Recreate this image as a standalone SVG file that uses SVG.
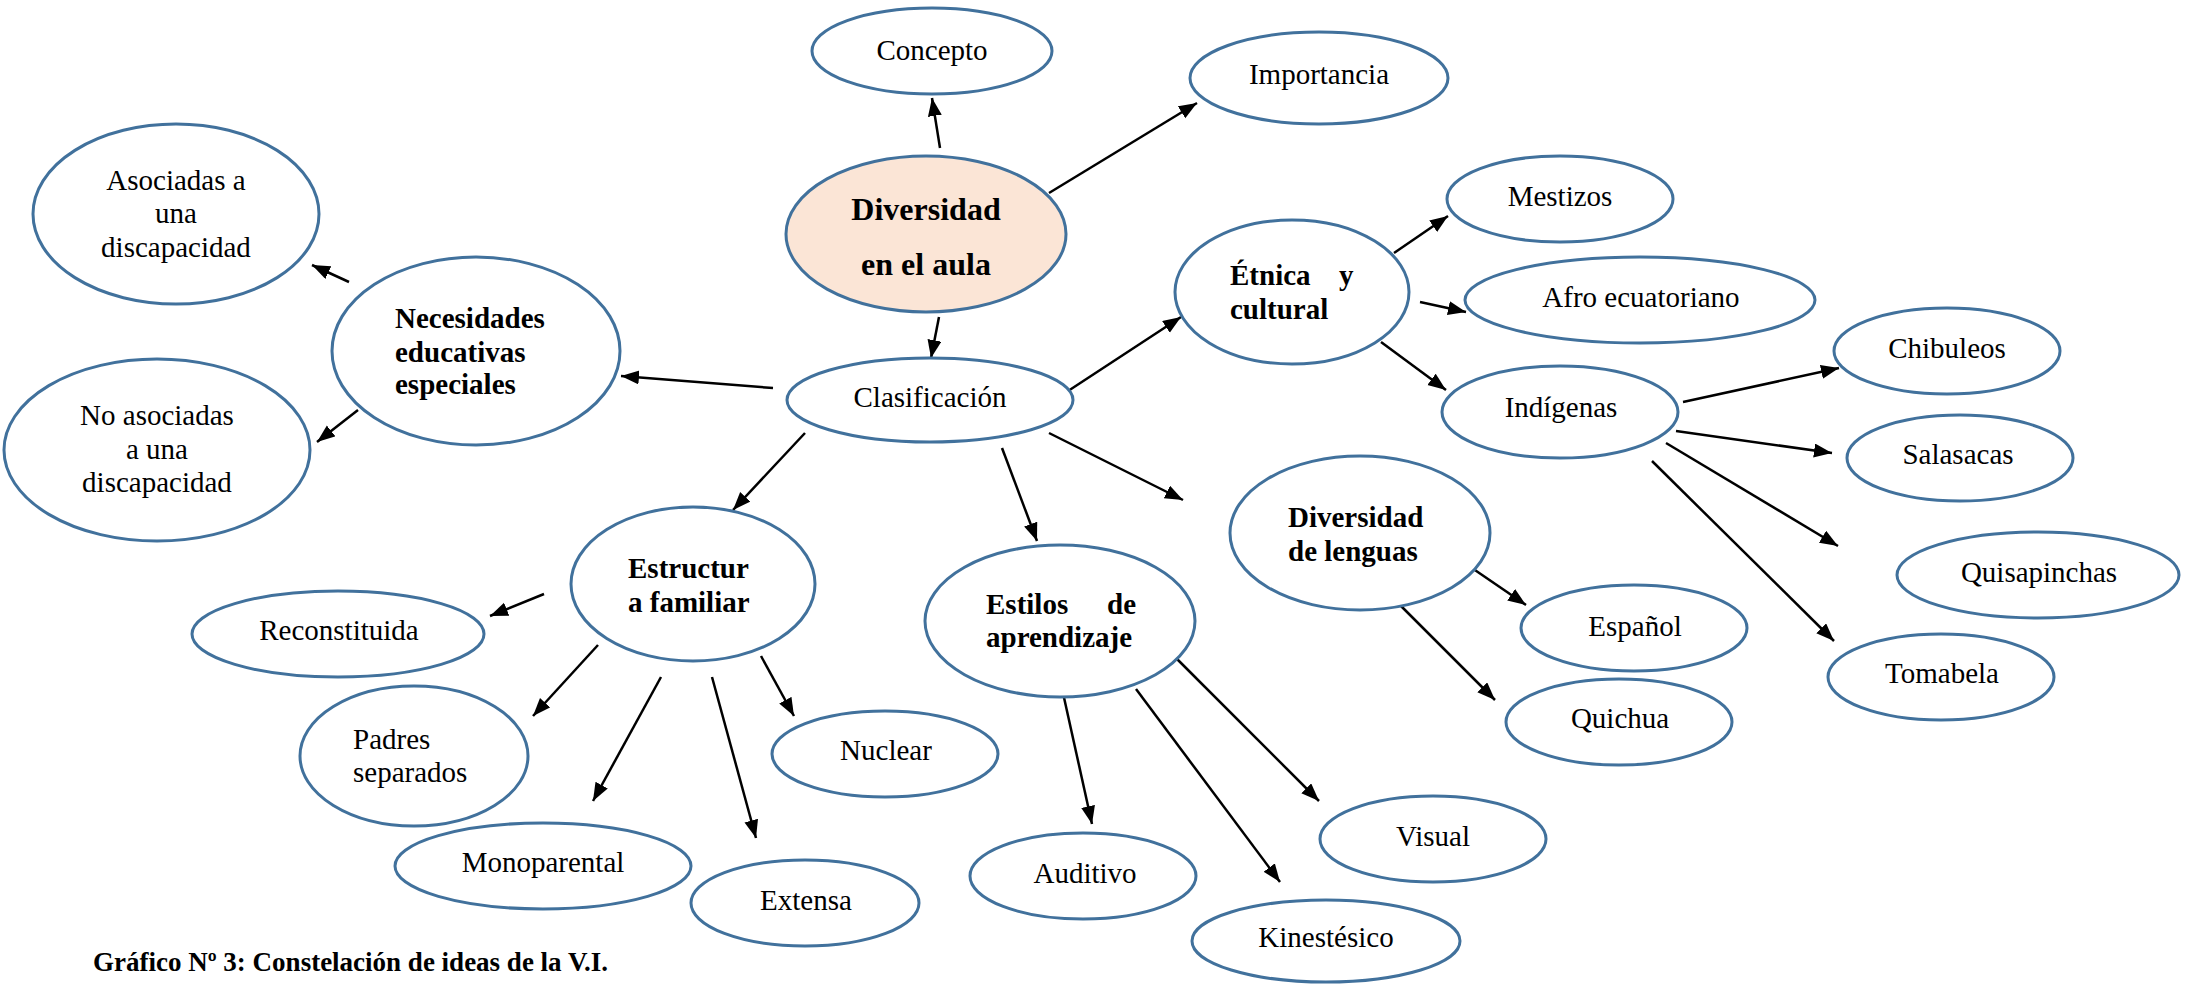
<svg xmlns="http://www.w3.org/2000/svg" width="2185" height="984" viewBox="0 0 2185 984">
<style>
.n{fill:#fff;stroke:#41719C;stroke-width:3}
.c{fill:#FBE5D6;stroke:#41719C;stroke-width:3}
text{font-family:"Liberation Serif","Times New Roman",serif;font-size:29px;fill:#000}
.m{text-anchor:middle}
.b{font-weight:bold}
.e line{stroke:#000;stroke-width:2.5;marker-end:url(#ah)}
</style>
<defs>
<marker id="ah" markerUnits="userSpaceOnUse" markerWidth="20" markerHeight="16" refX="18" refY="7" orient="auto">
<path d="M0,0 L18,7 L0,14 Z" fill="#000"/>
</marker>
</defs>
<rect width="2185" height="984" fill="#fff"/>
<g id="connectors" class="e">
<line x1="940" y1="148" x2="932" y2="98"/>
<line x1="1049" y1="193" x2="1197" y2="103"/>
<line x1="939" y1="317" x2="931" y2="358"/>
<line x1="773" y1="388" x2="621" y2="376"/>
<line x1="349" y1="282" x2="312" y2="265"/>
<line x1="358" y1="410" x2="317" y2="442"/>
<line x1="805" y1="433" x2="733" y2="510"/>
<line x1="1002" y1="448" x2="1037" y2="541"/>
<line x1="1065" y1="393" x2="1181" y2="317"/>
<line x1="1049" y1="433" x2="1183" y2="500"/>
<line x1="1394" y1="253" x2="1448" y2="216"/>
<line x1="1420" y1="302" x2="1466" y2="312"/>
<line x1="1381" y1="342" x2="1446" y2="390"/>
<line x1="1683" y1="402" x2="1839" y2="368"/>
<line x1="1676" y1="431" x2="1832" y2="453"/>
<line x1="1666" y1="443" x2="1838" y2="546"/>
<line x1="1652" y1="461" x2="1834" y2="641"/>
<line x1="1469" y1="566" x2="1526" y2="605"/>
<line x1="1396" y1="601" x2="1495" y2="700"/>
<line x1="544" y1="594" x2="490" y2="616"/>
<line x1="598" y1="645" x2="533" y2="716"/>
<line x1="661" y1="677" x2="593" y2="801"/>
<line x1="712" y1="677" x2="756" y2="838"/>
<line x1="761" y1="656" x2="794" y2="716"/>
<line x1="1063" y1="693" x2="1092" y2="824"/>
<line x1="1168" y1="650" x2="1319" y2="801"/>
<line x1="1136" y1="689" x2="1280" y2="882"/>
</g>
<g id="concepto"><ellipse class="n" cx="932" cy="51" rx="120" ry="43"/><text class="m" x="932" y="60">Concepto</text></g>
<g id="importancia"><ellipse class="n" cx="1319" cy="78" rx="129" ry="46"/><text class="m" x="1319" y="84">Importancia</text></g>
<g id="diversidad"><ellipse class="c" cx="926" cy="234" rx="140" ry="78"/><text class="m b" x="926" y="220" style="font-size:32px">Diversidad</text><text class="m b" x="926" y="275" style="font-size:32px">en el aula</text></g>
<g id="clasificacion"><ellipse class="n" cx="930" cy="400" rx="143" ry="42"/><text class="m" x="930" y="407">Clasificación</text></g>
<g id="asociadas"><ellipse class="n" cx="176" cy="214" rx="143" ry="90"/><text class="m" x="176" y="190">Asociadas a</text><text class="m" x="176" y="223">una</text><text class="m" x="176" y="257">discapacidad</text></g>
<g id="nee"><ellipse class="n" cx="476" cy="351" rx="144" ry="94"/><text class="b" x="395" y="328">Necesidades</text><text class="b" x="395" y="362">educativas</text><text class="b" x="395" y="394">especiales</text></g>
<g id="noasociadas"><ellipse class="n" cx="157" cy="450" rx="153" ry="91"/><text class="m" x="157" y="425">No asociadas</text><text class="m" x="157" y="459">a una</text><text class="m" x="157" y="492">discapacidad</text></g>
<g id="etnica"><ellipse class="n" cx="1292" cy="292" rx="117" ry="72"/><text class="b" x="1230" y="285">Étnica <tspan x="1339">y</tspan></text><text class="b" x="1230" y="319">cultural</text></g>
<g id="mestizos"><ellipse class="n" cx="1560" cy="199" rx="113" ry="43"/><text class="m" x="1560" y="206">Mestizos</text></g>
<g id="afro"><ellipse class="n" cx="1640" cy="300" rx="175" ry="43"/><text class="m" x="1641" y="307">Afro ecuatoriano</text></g>
<g id="indigenas"><ellipse class="n" cx="1560" cy="412" rx="118" ry="46"/><text class="m" x="1561" y="417">Indígenas</text></g>
<g id="chibuleos"><ellipse class="n" cx="1947" cy="351" rx="113" ry="43"/><text class="m" x="1947" y="358">Chibuleos</text></g>
<g id="salasacas"><ellipse class="n" cx="1960" cy="458" rx="113" ry="43"/><text class="m" x="1958" y="464">Salasacas</text></g>
<g id="quisapinchas"><ellipse class="n" cx="2038" cy="575" rx="141" ry="43"/><text class="m" x="2039" y="582">Quisapinchas</text></g>
<g id="tomabela"><ellipse class="n" cx="1941" cy="677" rx="113" ry="43"/><text class="m" x="1942" y="683">Tomabela</text></g>
<g id="lenguas"><ellipse class="n" cx="1360" cy="533" rx="130" ry="77"/><text class="b" x="1288" y="527">Diversidad</text><text class="b" x="1288" y="561">de lenguas</text></g>
<g id="espanol"><ellipse class="n" cx="1634" cy="628" rx="113" ry="43"/><text class="m" x="1635" y="636">Español</text></g>
<g id="quichua"><ellipse class="n" cx="1619" cy="722" rx="113" ry="43"/><text class="m" x="1620" y="728">Quichua</text></g>
<g id="estructura"><ellipse class="n" cx="693" cy="584" rx="122" ry="77"/><text class="b" x="628" y="578">Estructur</text><text class="b" x="628" y="612">a familiar</text></g>
<g id="reconstituida"><ellipse class="n" cx="338" cy="634" rx="146" ry="43"/><text class="m" x="339" y="640">Reconstituida</text></g>
<g id="padres"><ellipse class="n" cx="414" cy="756" rx="114" ry="70"/><text x="353" y="749">Padres</text><text x="353" y="782">separados</text></g>
<g id="monoparental"><ellipse class="n" cx="543" cy="866" rx="148" ry="43"/><text class="m" x="543" y="872">Monoparental</text></g>
<g id="extensa"><ellipse class="n" cx="805" cy="903" rx="114" ry="43"/><text class="m" x="806" y="910">Extensa</text></g>
<g id="nuclear"><ellipse class="n" cx="885" cy="754" rx="113" ry="43"/><text class="m" x="886" y="760">Nuclear</text></g>
<g id="estilos"><ellipse class="n" cx="1060" cy="621" rx="135" ry="76"/><text class="b" x="986" y="614">Estilos <tspan x="1136" text-anchor="end">de</tspan></text><text class="b" x="986" y="647">aprendizaje</text></g>
<g id="auditivo"><ellipse class="n" cx="1083" cy="876" rx="113" ry="43"/><text class="m" x="1085" y="883">Auditivo</text></g>
<g id="visual"><ellipse class="n" cx="1433" cy="839" rx="113" ry="43"/><text class="m" x="1433" y="846">Visual</text></g>
<g id="kinestesico"><ellipse class="n" cx="1326" cy="941" rx="134" ry="41"/><text class="m" x="1326" y="947">Kinestésico</text></g>
<text class="b" x="93" y="971" style="font-size:27px">Gráfico Nº 3: Constelación de ideas de la V.I.</text>
</svg>
